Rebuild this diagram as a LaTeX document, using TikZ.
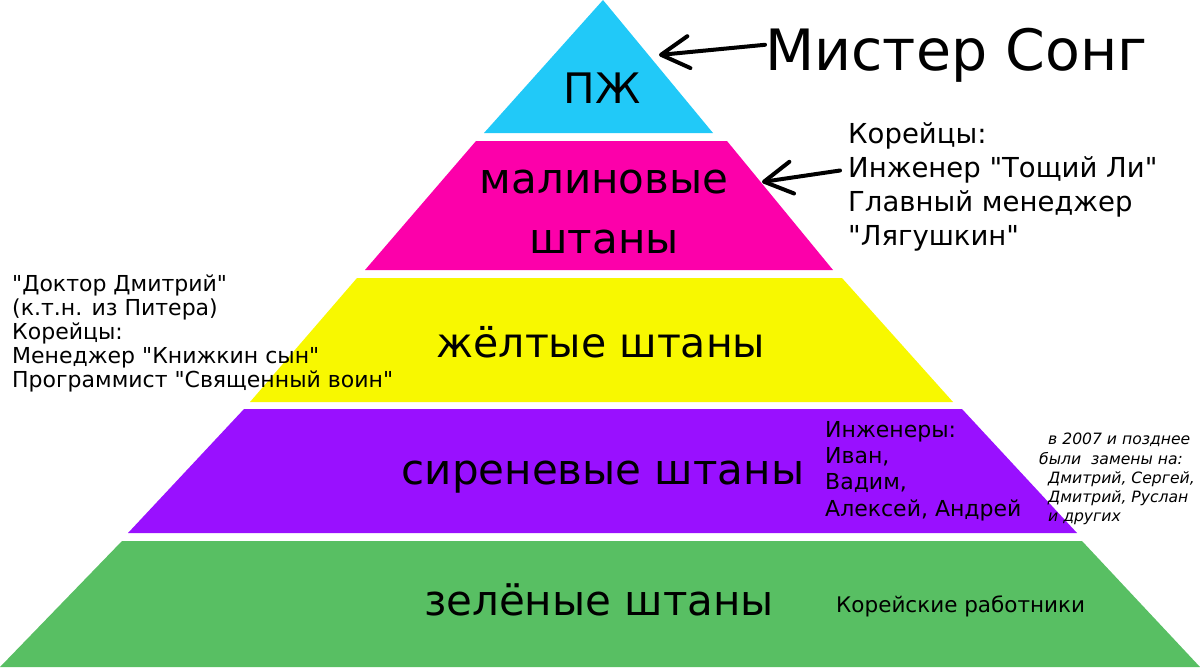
\documentclass[tikz,border=0pt]{standalone}
\usepackage{fontspec}
\setmainfont{DejaVu Sans}[Ligatures=TeXOff]
\usepackage{tikz}
\usetikzlibrary{positioning,arrows.meta}
\definecolor{pzhblue}{RGB}{33,201,248}
\definecolor{malina}{RGB}{252,0,170}
\definecolor{zholt}{RGB}{248,248,0}
\definecolor{siren}{RGB}{153,16,255}
\definecolor{zelen}{RGB}{88,191,99}
\tikzset{layerlbl/.style={inner sep=0pt,anchor=base,font=\fontsize{42}{60}\selectfont},
note/.style={inner sep=0pt,anchor=north west,align=left},
pointer/.style={line width=4pt,line cap=round,-{Straight Barb[round,length=28pt,width=32pt]}}}

\begin{document}
\begin{tikzpicture}[x=1pt,y=-1pt]
\useasboundingbox (0,0) rectangle (1200,667);
\fill[pzhblue] (603,0) -- (713,133) -- (484,133) -- cycle;
\fill[malina] (476,141) -- (727,141) -- (833,270) -- (365,270) -- cycle;
\fill[zholt] (357,278) -- (842,278) -- (953,402) -- (250,402) -- cycle;
\fill[siren] (244,409) -- (962,409) -- (1077,533) -- (128,533) -- cycle;
\fill[zelen] (122,541) -- (1082,541) -- (1200,667) -- (0,667) -- cycle;
\node[layerlbl] (pzh) at (602,103) {ПЖ};
\node[layerlbl,align=center,anchor=north] (malin) at (604,170) {малиновые\\штаны};
\node[layerlbl,font=\fontsize{41}{60}\selectfont] (yellow) at (601,357) {жёлтые штаны};
\node[layerlbl] (lilac) at (603,484) {сиреневые штаны};
\node[layerlbl] (green) at (599,615) {зелёные штаны};
\node[inner sep=0pt,anchor=base west,font=\fontsize{57}{68}\selectfont] (song) at (765,70) {Мистер Сонг};
\node[note,font=\fontsize{27.5}{34}\selectfont] (kor) at (848,122)
{Корейцы:\\Инженер "Тощий Ли"\\Главный менеджер\\"Лягушкин"};
\node[note,font=\fontsize{22}{24}\selectfont] (doktor) at (12,275)
{"Доктор Дмитрий"\\(к.т.н. из Питера)\\Корейцы:\\Менеджер "Книжкин сын"\\Программист "Священный воин"};
\node[note,font=\fontsize{22}{26.3}\selectfont] (inzh) at (825,421)
{Инженеры:\\Иван,\\Вадим,\\Алексей, Андрей};
\node[note,font=\fontsize{15.6}{19.3}\selectfont\itshape] (zamena) at (1039,433)
{\hspace*{9pt}в 2007 и позднее\\были\ \ замены на:\\\hspace*{9pt}Дмитрий, Сергей,\\\hspace*{9pt}Дмитрий, Руслан\\\hspace*{9pt}и других};
\node[inner sep=0pt,anchor=base west,font=\fontsize{21.5}{24}\selectfont] (workers) at (836,612) {Корейские работники};
\coordinate (pzh edge) at (659,55);
\coordinate (malin edge) at (762,182);
\draw[pointer] ([yshift=10pt]song.west) -- (pzh edge);
\draw[pointer] ([xshift=-8pt,yshift=16pt]kor.west) -- (malin edge);
\end{tikzpicture}
\end{document}
